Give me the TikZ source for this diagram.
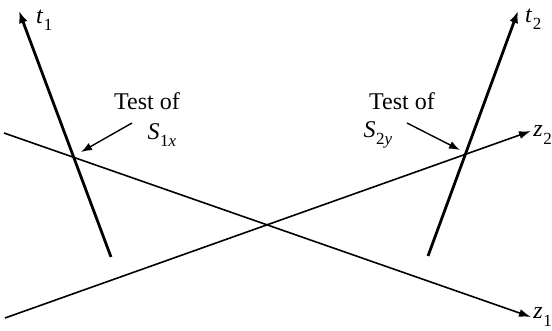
\documentclass[tikz,border=0pt]{standalone}
\usepackage{fontspec}
\setmainfont{Liberation Serif}
\usetikzlibrary{arrows.meta}
\newcommand{\ivar}[2]{\textit{#1}\kern0.5pt\raisebox{-0.3em}{\fontsize{17}{19}\selectfont #2}}
\begin{document}
\begin{tikzpicture}[x=1pt,y=-1pt,
  taxis/.style={line width=2.8pt,-{Latex[length=12pt,width=9pt]}},
  zaxis/.style={line width=1.6pt,-{Latex[length=12pt,width=8pt]}},
  pointer/.style={line width=1.4pt,-{Latex[length=11pt,width=8pt]}},
  lbl/.style={inner sep=0pt,font=\fontsize{24}{28}\selectfont}]
\useasboundingbox (0,0) rectangle (552,330);
\coordinate (t1s) at (111,257);
\coordinate (t1e) at (19,11);
\coordinate (t2s) at (428,256);
\coordinate (t2e) at (518,11);
\coordinate (z1s) at (4,133);
\coordinate (z1e) at (531,317);
\coordinate (z2s) at (5,318);
\coordinate (z2e) at (531,131);
\draw[taxis] (t1s) -- (t1e);
\draw[taxis] (t2s) -- (t2e);
\draw[zaxis] (z1s) -- (z1e);
\draw[zaxis] (z2s) -- (z2e);
\node[lbl,anchor=west] (t1) at (36,20) {\ivar{t}{1}};
\node[lbl,anchor=west] (t2) at (525,19) {\ivar{t}{2}};
\node[lbl,anchor=east] (z1) at (552,317) {\ivar{z}{1}};
\node[lbl,anchor=east] (z2) at (552,135) {\ivar{z}{2}};
\node[lbl] (test1) at (147,101) {Test of};
\node[lbl] (s1) at (162,135) {\ivar{S}{1\textit{x}}};
\node[lbl] (test2) at (402,101) {Test of};
\node[lbl] (s2) at (378,135) {\ivar{S}{2\textit{y}}};
\coordinate (p1) at (81,152);
\coordinate (p2) at (460,150);
\draw[pointer] (132,123) -- (p1);
\draw[pointer] (407,123) -- (p2);
\end{tikzpicture}
\end{document}
